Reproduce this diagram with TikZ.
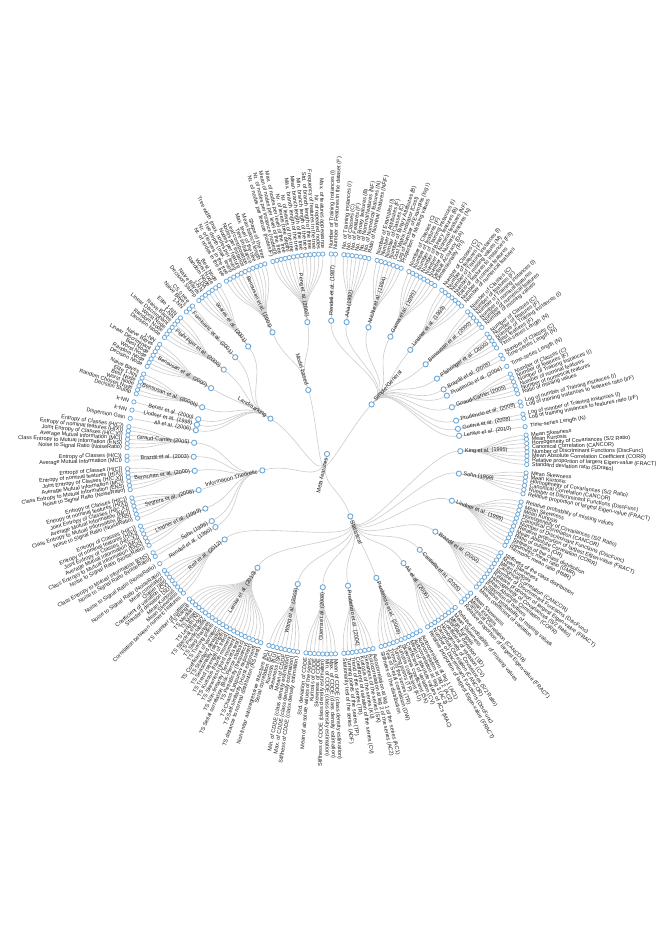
\documentclass[tikz,border=0pt]{standalone}
\usepackage{fontspec}
\setmainfont{Liberation Sans}
\pgfdeclarelayer{bg}
\pgfsetlayers{bg,main}
\definecolor{nodeblue}{RGB}{110,168,214}
\definecolor{linkgray}{RGB}{205,205,205}
\definecolor{txt}{RGB}{28,28,28}
\newcount\uu \uu=-1
\newcount\gcnt
\def\sdeg{1.208054}
\xdef\linklist{root/Simp/33.333,root/Stat/33.333,root/Info/33.333,root/Land/33.333,root/Mod/33.333}
\tikzset{
  leafnode/.style={circle,draw=nodeblue,fill=white,line width=0.75pt,inner sep=0pt,minimum size=4.3pt},
  innode/.style={circle,draw=nodeblue,fill=white,line width=0.9pt,inner sep=0pt,minimum size=5.2pt},
  lnk/.style={draw=linkgray,line width=0.6pt},
  smalltxt/.style={inner sep=0pt,font=\fontsize{5.5}{6}\selectfont,text=txt},
  bigtxt/.style={inner sep=0pt,font=\fontsize{5.7}{6}\selectfont,text=txt},
}
\newcommand\outlabel[5]{%
  \pgfmathtruncatemacro\sideR{(#2)>-90}%
  \ifnum\sideR=1
    \node[#4,anchor=west,rotate=#2] (#1) at (#2:#3) {#5};%
  \else
    \pgfmathsetmacro\rotang{#2+180}%
    \node[#4,anchor=east,rotate=\rotang] (#1) at (#2:#3) {#5};%
  \fi}
\newcommand\grp[3]{% id, label, leaves
  \global\advance\uu by 1
  \global\gcnt=0
  \foreach \lbl in {#3}{\global\advance\gcnt by 1}%
  \pgfmathsetmacro\gang{90-(\the\uu+1+(\the\gcnt-1)/2)*\sdeg}%
  \expandafter\xdef\csname ang#1\endcsname{\gang}%
  \node[innode] (#1) at (\gang:133.333) {};
  \outlabel{#1t}{\gang}{138}{smalltxt}{#2}%
  \foreach \lbl in {#3}{%
    \global\advance\uu by 1
    \pgfmathsetmacro\lang{90-\the\uu*\sdeg}%
    \expandafter\xdef\csname angL\the\uu\endcsname{\lang}%
    \node[leafnode] (L\the\uu) at (\lang:200) {};
    \outlabel{L\the\uu t}{\lang}{205}{smalltxt}{\lbl}%
    \xdef\linklist{\linklist,#1/L\the\uu/166.667}%
  }%
}
\newcommand\dnode[5]{% id, first group, last group, label, groups
  \edef\fa{\csname ang#2\endcsname}\edef\fb{\csname ang#3\endcsname}%
  \pgfmathsetmacro\dang{(\fa+\fb)/2}%
  \expandafter\xdef\csname ang#1\endcsname{\dang}%
  \node[innode] (#1) at (\dang:66.667) {};
  \outlabel{#1t}{\dang}{71.5}{bigtxt}{#4}%
  \foreach \gid in {#5}{\xdef\linklist{\linklist,#1/\gid/100}}%
}
\begin{document}
\begin{tikzpicture}[x=1pt,y=1pt]
\useasboundingbox (-327,-474) rectangle (329,454);
% ---------------- Simple / General
\grp{A1}{Rendell et al. (1987)}{Number of Training Instances (I),Number of Features in the dataset (F)}
\grp{A2}{Aha (1992)}{No. of Training instances (I),No. of Classes (C),No. of Features (F),No. of Binary features (B),No. of Nominal features (NF),No. of Numerical features (N),Ratio of Nominal features (NF/F)}
\grp{A3}{Michie et al. (1994)}{Number of Examples (I),Number of Attributes (F),Number of Classes (C),Number of Binary Attributes (B),Cost Matrix Indicator (Cost),Log of Number of Examples (log I),Proportion of Missing values}
\grp{A4}{Gama et al. (1995)}{Number of Classes (C),Number of features (F),Number of Training instances (I),Number of Binary features (B),Number of Nominal features (NF),Number of Numeric features (N),Default Accuracy (DA),Dimensionality (F/I)}
\grp{A5}{Lindner et al. (1999)}{Number of Classes (C),Number of features (F),Number of Training instances (I),Number of missing values (M),Ratio of features to instances (F/I),Number of nominal features,Number of numerical features}
\grp{A6}{Bensusan et al. (2000)}{Number of Classes (C),Number of features (F),Number of Training instances (I),Number of nominal features,Number of numerical features,Number of missing values}
\grp{A7}{Pfahringer et al. (2000)}{Number of Classes (C),Number of features (F),Number of Training instances (I),Best features (F),Time-series Length (N)}
\grp{A8}{Brazdil et al. (2003)}{Number of Classes (C),Time-series Length (N)}
\grp{A9}{Prudencio et al. (2004)}{Time-series Length (N)}
\grp{A10}{Giraud-Carrier (2005)}{Number of Classes (C),Number of features (F),Number of Training instances (I),Number of nominal features,Number of numerical features,Ratio of missing values}
\grp{A11}{Prudencio et al. (2008)}{Log of number of Training instances (I),Log of training instances to features ratio (I/F)}
\grp{A12}{Guerra et al. (2008)}{Log of number of Training instances (I),Log of training instances to features ratio (I/F)}
\grp{A13}{Lemke et al. (2010)}{Time-series Length (N)}
% ---------------- Statistical
\grp{B1}{King et al. (1995)}{Mean Skewness,Mean Kurtosis,Homogeneity of Covariances (S/2 Ratio),Canonical Correlation (CANCOR),Number of Discriminant Functions (DiscFunc),Mean Absolute Correlation Coefficient (CORR),Relative proportion of largest Eigen-value (FRACT),Standard deviation ratio (SDratio)}
\grp{B2}{Sohn (1999)}{Mean Skewness,Mean Kurtosis,Homogeneity of Covariances (S/2 Ratio),Canonical Correlation (CANCOR),Number of Discriminant Functions (DiscFunc),Relative proportion of largest Eigen-value (FRACT)}
\grp{B3}{Lindner et al. (1999)}{Relative probability of missing values,Mean Skewness,Mean Kurtosis,Homogeneity of Covariances (S/2 Ratio),Canonical Correlation (CANCOR),Number of Discriminant Functions (DiscFunc),Relative proportion of largest Eigen-value (FRACT),Mean Absolute Correlation (CORR),Ratio of outliers (OR),Stiffness of the class distribution,Geometric mean ratio (GMR),Harmonic mean ratio (HMR)}
\grp{B4}{Brazdil et al. (2003)}{Stiffness of the class distribution,Mean Skewness,Mean Kurtosis,Canonical Correlation (CANCOR),Number of Discriminant Functions (DiscFunc),Relative proportion of largest Eigen-value (FRACT),Homogeneity of Covariances (S/2 Ratio),Mean Absolute Correlation (CORR),Proportion of outliers,Relative probability of missing values,Mean coefficient of variation}
\grp{B5}{Castiello et al. (2005)}{Mean Skewness,Mean Kurtosis,Canonical Correlation (CANCOR),Relative proportion of largest Eigen-value (FRACT)}
\grp{B6}{Ali et al. (2006)}{Relative probability of missing values,Mean Skewness,Mean Kurtosis,Standard deviation (SD),Coefficient of variation (CV),Homogeneity of Covariances (S/2 Ratio),Canonical Correlation (CANCOR),Number of Discriminant Functions (DiscFunc),Relative proportion of largest Eigen-value (FRACT)}
\grp{B7}{Prudencio et al. (2008)}{Autocorrelation at lag 1 (AC1),Autocorrelation at lag 2 (AC2),Autocorrelation at lag 3 (AC3),Mean of absolute values of ACs (MAC),Coefficient of variation (CV),Skewness coefficient (SK),Kurtosis coefficient (KU),Turning points (TP),Trend of the series (TR),Test of Serial correlation (DW),Stiffness of the distribution}
\grp{B8}{Prudencio et al. (2004)}{Autocorrelation at lag 1 of the series (AC1),Autocorrelation at lag 2 of the series (AC2),Skewness of the series (SK),Kurtosis of the series (KU),Coefficient of variation of the series (CV),Trend of the series (TR),Turning points of the series (TP),Stationarity test of the series (ADF)}
\grp{B9}{Guerra et al. (2008)}{Mean of CDDE (class density estimation),Max. of CDDE (class density estimation),Min. of CDDE (class density estimation),Stiffness of CDDE (class density estimation),Skewness of CDDE,Kurtosis of CDDE,Mean of absolute values of the series,Std. deviation of CDDE}
\grp{B10}{Wang et al. (2009)}{Stiffness of CDDE (class density estimation),Max. of CDDE (class density estimation),Min. of CDDE (class density estimation),Mean of CDDE,Skewness (SK),Kurtosis (KU),Serial correlation (SC),Non-linear autoregressive structure (NL)}
\grp{B11}{Lemke et al. (2010)}{TS distance to normal distribution (KS test),TS Self-similarity (Hurst exponent),TS Chaos (Lyapunov exponent),TS Periodicity (frequency),TS Serial correlation (Box-Pierce statistic),TS Non-linearity (Terasvirta test),TS Skewness (third moment),TS Kurtosis (fourth moment),TS Trend (strength of trend),TS Seasonality (strength),TS Standard deviation,TS Coefficient of variation,TS Turning points,TS Step changes,TS Predictability,TS Spectral entropy,TS Length (N),TS Mean,TS Median,TS Range,TS Number of outliers}
\grp{B12}{Reif et al. (2012)}{Correlation between numeric features,Mean Skewness,Mean Kurtosis,Standard deviation (SD),Coefficient of variation (CV),Outlier ratio,Mean correlation,Noise to Signal Ratio (NoiseRatio)}
% ---------------- Information theoretic
\grp{C0}{Rendell et al. (1990)}{Noise to Signal Ratio (NoiseRatio)}
\grp{C1}{Sohn (1999)}{Noise to Signal Ratio (NoiseRatio),Class Entropy to Mutual Information (ENS)}
\grp{C2}{Lindner et al. (1999)}{Noise to Signal Ratio (NoiseRatio),Class Entropy to Mutual Information (ENS),Average Mutual Information (MCI),{Joint Entropy of Classes (H(C,X))},Entropy of nominal features (H(X)),Entropy of Classes (H(C))}
\grp{C3}{Segrera et al. (2008)}{Noise to Signal Ratio (NoiseRatio),Class Entropy to Mutual Information (ENS),Average Mutual Information (MCI),{Joint Entropy of Classes (H(C,X))},Entropy of nominal features (H(X)),Entropy of Classes (H(C))}
\grp{C4}{Bensusan et al. (2000)}{Noise to Signal Ratio (NoiseRatio),Class Entropy to Mutual Information (ENS),Average Mutual Information (MCI),{Joint Entropy of Classes (H(C,X))},Entropy of nominal features (H(X)),Entropy of Classes (H(C))}
\grp{C5}{Brazdil et al. (2003)}{Average Mutual Information (MCI),Entropy of Classes (H(C))}
\grp{C6}{Giraud-Carrier (2005)}{Noise to Signal Ratio (NoiseRatio),Class Entropy to Mutual Information (ENS),Average Mutual Information (MCI),{Joint Entropy of Classes (H(C,X))},Entropy of nominal features (H(X)),Entropy of Classes (H(C))}
% ---------------- Landmarking
\grp{D1}{Ali et al. (2006)}{Dispersion Gain}
\grp{D2}{Lindner et al. (1999)}{k-NN}
\grp{D3}{Berrer et al. (2000)}{k-NN}
\grp{D4}{Bensusan et al. (2000b)}{Decision Stump,Random Chosen Node,Worst Node,Best Node,Elite 1-NN,Naive Bayes}
\grp{D5}{Bensusan et al. (2000)}{Decision Node,Random Node,Worst Node,Best Node,Linear Discriminant,Naive Bayes,1-NN}
\grp{D6}{Pfahringer et al. (2000)}{Decision Node,Random Node,Worst Node,Linear Discriminant,Naive Bayes,1-NN,Elite 1-NN}
\grp{D7}{Fürnkranz et al. (2001)}{1-NN,Naive Bayes,C5.0 tree}
\grp{D8}{Soares et al. (2001)}{Decision Stump,Naive Bayes,1-NN,LDA,Random Node,Worst Node,Best Node}
% ---------------- Model-based
\grp{E1}{Bensusan et al. (2001)}{Nr. of nodes in the tree,Nr. of leaves in the tree,Tree depth (max. level),Tree width (max. nodes per level),Nodes per feature,Nodes per instance,Leaf corroboration,Tree imbalance,Max. level of the tree,Mean branch length,Shape of the tree}
\grp{E2}{Peng et al. (2002)}{Nr. of nodes per feature (nodes/F),Nr. of nodes per instance (nodes/I),Mean of nodes per level of the tree,Max. of nodes per level of the tree,Nr. of levels (tree depth),Nr. of leaves of the tree,Max. branch length of the tree,Mean branch length of the tree,Min. branch length of the tree,Std. of branch length of the tree,Frequency of features in the tree,Nr. of repeated nodes,Max. of features appearance}
% ---------------- depth 1
\dnode{Simp}{A1}{A13}{Simple/General}{A1,A2,A3,A4,A5,A6,A7,A8,A9,A10,A11,A12,A13}
\dnode{Stat}{B1}{B12}{Statistical}{B1,B2,B3,B4,B5,B6,B7,B8,B9,B10,B11,B12}
\dnode{Info}{C0}{C6}{Information Theoretic}{C0,C1,C2,C3,C4,C5,C6}
\dnode{Land}{D1}{D8}{Landmarking}{D1,D2,D3,D4,D5,D6,D7,D8}
\dnode{Mod}{E1}{E2}{Model-based}{E1,E2}
% ---------------- root
\edef\ra{\csname angSimp\endcsname}\edef\rb{\csname angMod\endcsname}
\pgfmathsetmacro\rootang{(\ra+\rb)/2}
\expandafter\xdef\csname angroot\endcsname{\rootang}
\node[innode] (root) at (0,0) {};
\outlabel{roott}{\rootang}{4.5}{bigtxt}{Meta-features}
% ---------------- all links, one background layer
\begin{pgfonlayer}{bg}
\fill[white] (-327,-474) rectangle (329,454);
\foreach \p/\c/\r in \linklist {%
  \edef\pa{\csname ang\p\endcsname}\edef\ca{\csname ang\c\endcsname}%
  \draw[lnk] (\p) .. controls (\pa:\r) and (\ca:\r) .. (\c);
}
\end{pgfonlayer}
\end{tikzpicture}
\end{document}
